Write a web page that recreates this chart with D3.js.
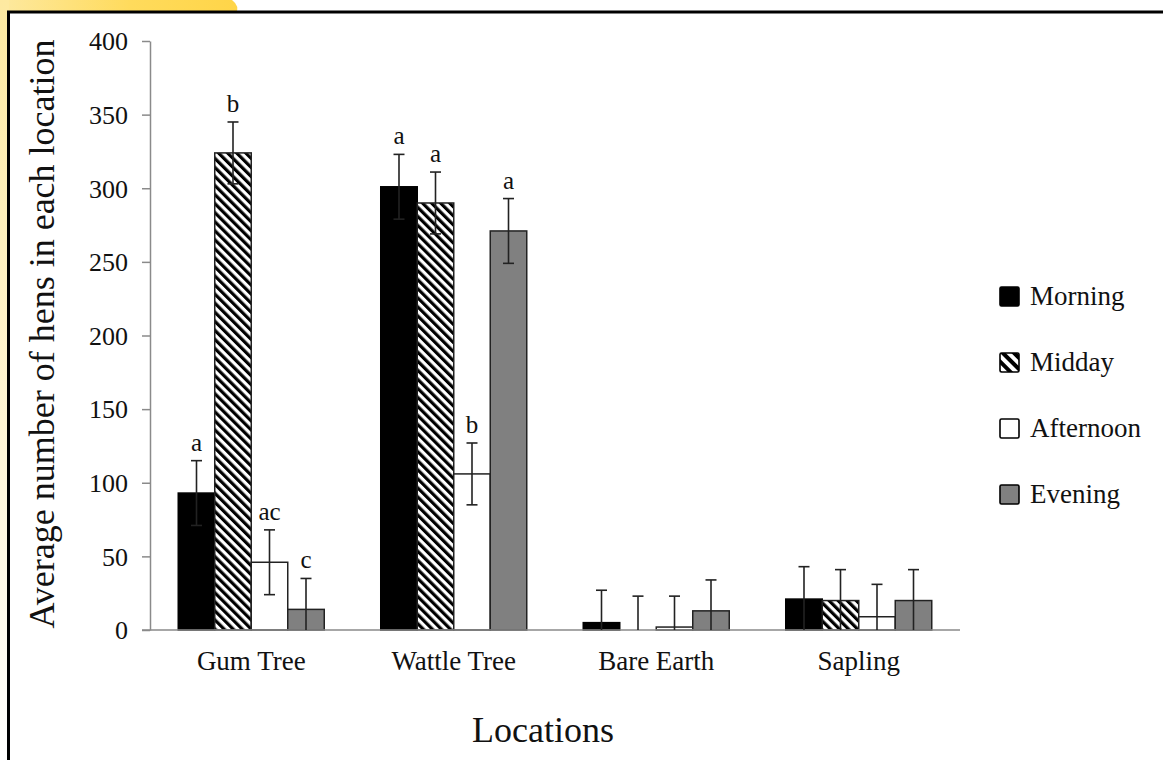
<!DOCTYPE html>
<html>
<head>
<meta charset="utf-8">
<script src="https://cdn.jsdelivr.net/npm/d3@7"></script>
<style>
  html, body { margin: 0; padding: 0; background: #fff; }
  svg { display: block; }
  svg text { font-family: "Liberation Serif", "Times New Roman", Times, serif !important; fill: #111; }
</style>
</head>
<body>
<svg id="chart" width="1163" height="760"></svg>
<script>
// Locations on the x axis and time-of-day series
const categories = ["Gum Tree", "Wattle Tree", "Bare Earth", "Sapling"];
const series = ["Morning", "Midday", "Afternoon", "Evening"];

// Mean number of hens per location, one array per time of day
const morning   = [93, 301, 5, 21];
const midday    = [324, 290, 0, 20];
const afternoon = [46, 106, 2, 9];
const evening   = [14, 271, 13, 20];

// Error (± around the mean)
const morningErr   = [22, 22, 22, 22];
const middayErr    = [21, 21, 23, 21];
const afternoonErr = [22, 21, 21, 22];
const eveningErr   = [21, 22, 21, 21];

// Significance letters above the bars
const morningLetters   = ["a", "a", "", ""];
const middayLetters    = ["b", "a", "", ""];
const afternoonLetters = ["ac", "b", "", ""];
const eveningLetters   = ["c", "a", "", ""];

const yTicks = [0, 50, 100, 150, 200, 250, 300, 350, 400];

const SERIF = "'Liberation Serif', 'Times New Roman', Times, serif";

const values  = [morning, midday, afternoon, evening];
const errs    = [morningErr, middayErr, afternoonErr, eveningErr];
const letters = [morningLetters, middayLetters, afternoonLetters, eveningLetters];

const rows = [];
categories.forEach((c, ci) => {
  series.forEach((s, si) => {
    rows.push({ cat: c, ser: s, v: values[si][ci], e: errs[si][ci], l: letters[si][ci] });
  });
});

const svg = d3.select("#chart");
const defs = svg.append("defs");

// Page decoration: yellow tab behind the framed figure
const gTop = defs.append("linearGradient").attr("id", "yellowTop").attr("x1", 0).attr("x2", 1);
gTop.append("stop").attr("offset", "0").attr("stop-color", "#fde9a0");
gTop.append("stop").attr("offset", "0.55").attr("stop-color", "#ffdb5c");
gTop.append("stop").attr("offset", "1").attr("stop-color", "#ffd548");
const gLeft = defs.append("linearGradient").attr("id", "yellowLeft")
  .attr("x1", 0).attr("x2", 0).attr("y1", 0).attr("y2", 1);
gLeft.append("stop").attr("offset", "0").attr("stop-color", "#fde9a0");
gLeft.append("stop").attr("offset", "0.6").attr("stop-color", "#fff6d8");
gLeft.append("stop").attr("offset", "1").attr("stop-color", "#ffffff");

svg.append("path")
  .attr("d", "M0,0 H232 Q240,6 236,14 H0 Z")
  .attr("fill", "url(#yellowTop)");
svg.append("rect").attr("x", 0).attr("y", 0).attr("width", 9).attr("height", 760)
  .attr("fill", "url(#yellowLeft)");

// Figure frame
svg.append("rect")
  .attr("x", 8.5).attr("y", 12).attr("width", 1170).attr("height", 760)
  .attr("fill", "#fff").attr("stroke", "#000").attr("stroke-width", 3);

// Diagonal hatch for the Midday series
function hatch(id, size, w) {
  const p = defs.append("pattern").attr("id", id)
    .attr("patternUnits", "userSpaceOnUse")
    .attr("width", size).attr("height", size)
    .attr("patternTransform", "rotate(-45)");
  p.append("rect").attr("width", size).attr("height", size).attr("fill", "#fff");
  p.append("rect").attr("x", 0).attr("y", 0).attr("width", w).attr("height", size).attr("fill", "#000");
}
hatch("hatchBar", 6.4, 3.2);
hatch("hatchKey", 8, 4);

const fills   = { Morning: "#000", Midday: "url(#hatchBar)", Afternoon: "#fff", Evening: "#808080" };
const keyFill = { Morning: "#000", Midday: "url(#hatchKey)", Afternoon: "#fff", Evening: "#808080" };

const plotLeft = 150, plotRight = 960, plotTop = 41, plotBottom = 630;

const y = d3.scaleLinear().domain([0, 400]).range([plotBottom, plotTop]);
const x0 = d3.scaleBand().domain(categories).range([plotLeft, plotRight])
  .paddingInner(0.279).paddingOuter(0.1395);
const x1 = d3.scaleBand().domain(series).range([0, x0.bandwidth()]);

// Y axis
const yAxis = svg.append("g")
  .attr("transform", `translate(${plotLeft},0)`)
  .call(d3.axisLeft(y).tickValues(yTicks).tickSize(8).tickPadding(14).tickSizeOuter(0))
  .attr("font-family", SERIF).attr("font-size", 26);
yAxis.select(".domain").attr("stroke", "#8a8a8a").attr("stroke-width", 1.5);
yAxis.selectAll(".tick line").attr("stroke", "#8a8a8a").attr("stroke-width", 1.5);
yAxis.selectAll(".tick text")
  .attr("font-family", SERIF).attr("font-size", 26).attr("dy", "0.34em").attr("fill", "#111");

// Bars
const bars = svg.append("g");
bars.selectAll("rect").data(rows).join("rect")
  .attr("x", d => x0(d.cat) + x1(d.ser))
  .attr("y", d => y(d.v))
  .attr("width", x1.bandwidth())
  .attr("height", d => y(0) - y(d.v))
  .attr("fill", d => fills[d.ser])
  .attr("stroke", d => d.ser === "Morning" ? "#000" : "#222")
  .attr("stroke-width", 1.5);

// X axis baseline with category labels
const xAxis = svg.append("g")
  .attr("transform", `translate(0,${plotBottom})`)
  .call(d3.axisBottom(x0).tickSize(0).tickPadding(21))
  .attr("font-family", SERIF).attr("font-size", 27);
xAxis.select(".domain").attr("stroke", "#8a8a8a").attr("stroke-width", 1.5)
  .attr("d", `M${plotLeft - 8},0H${plotRight}`);
xAxis.selectAll(".tick text")
  .attr("font-family", SERIF).attr("font-size", 27).attr("fill", "#111");

// Error bars
const eb = svg.append("g").attr("stroke", "#222").attr("stroke-width", 1.6);
const cx = d => x0(d.cat) + x1(d.ser) + x1.bandwidth() / 2;
eb.selectAll("line.stem").data(rows).join("line").attr("class", "stem")
  .attr("x1", cx).attr("x2", cx)
  .attr("y1", d => y(Math.max(0, d.v - d.e)))
  .attr("y2", d => y(d.v + d.e));
eb.selectAll("line.capTop").data(rows).join("line").attr("class", "capTop")
  .attr("x1", d => cx(d) - 5.5).attr("x2", d => cx(d) + 5.5)
  .attr("y1", d => y(d.v + d.e)).attr("y2", d => y(d.v + d.e));
eb.selectAll("line.capBot").data(rows.filter(d => d.v - d.e > 0)).join("line").attr("class", "capBot")
  .attr("x1", d => cx(d) - 5.5).attr("x2", d => cx(d) + 5.5)
  .attr("y1", d => y(d.v - d.e)).attr("y2", d => y(d.v - d.e));

// Significance letters
svg.append("g").selectAll("text").data(rows.filter(d => d.l)).join("text")
  .attr("x", cx)
  .attr("y", d => y(d.v + d.e) - 10)
  .attr("text-anchor", "middle")
  .attr("font-family", SERIF)
  .attr("font-size", 25)
  .text(d => d.l);

// Axis titles
svg.append("text")
  .attr("transform", `translate(54,334) rotate(-90)`)
  .attr("text-anchor", "middle")
  .attr("font-family", SERIF)
  .attr("font-size", 36)
  .text("Average number of hens in each location");
svg.append("text")
  .attr("x", 543)
  .attr("y", 742)
  .attr("text-anchor", "middle")
  .attr("font-family", SERIF)
  .attr("font-size", 36)
  .text("Locations");

// Legend
const legend = svg.append("g").attr("transform", "translate(1000,287)");
const li = legend.selectAll("g").data(series).join("g")
  .attr("transform", (d, i) => `translate(0,${i * 66})`);
li.append("rect")
  .attr("x", 0).attr("y", 0).attr("width", 19).attr("height", 19).attr("rx", 1.5)
  .attr("fill", d => keyFill[d]).attr("stroke", "#000").attr("stroke-width", 1.6);
li.append("text")
  .attr("x", 30).attr("y", 18)
  .attr("font-family", SERIF)
  .attr("font-size", 27)
  .text(d => d);
</script>
</body>
</html>
